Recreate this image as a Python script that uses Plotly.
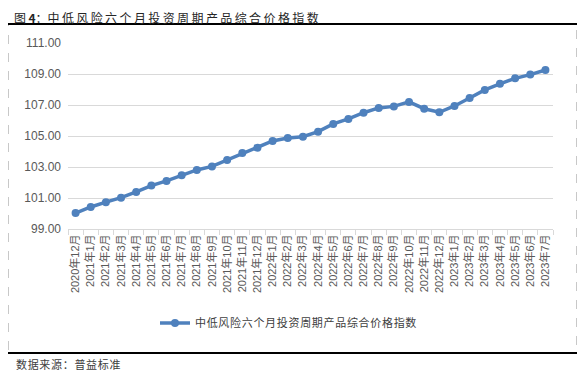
import plotly.graph_objects as go

# ---------------- data ----------------
months = ["2020年12月",
          "2021年1月", "2021年2月", "2021年3月", "2021年4月", "2021年5月", "2021年6月",
          "2021年7月", "2021年8月", "2021年9月", "2021年10月", "2021年11月", "2021年12月",
          "2022年1月", "2022年2月", "2022年3月", "2022年4月", "2022年5月", "2022年6月",
          "2022年7月", "2022年8月", "2022年9月", "2022年10月", "2022年11月", "2022年12月",
          "2023年1月", "2023年2月", "2023年3月", "2023年4月", "2023年5月", "2023年6月",
          "2023年7月"]
index_values = [100.03, 100.42, 100.73, 101.02, 101.39, 101.80, 102.10,
                102.47, 102.81, 103.04, 103.45, 103.90, 104.25,
                104.68, 104.87, 104.95, 105.28, 105.78, 106.10,
                106.50, 106.81, 106.91, 107.20, 106.76, 106.53,
                106.94, 107.45, 107.97, 108.37, 108.72, 108.96,
                109.26]
y_ticks = [99, 101, 103, 105, 107, 109, 111]

series_name = "中低风险六个月投资周期产品综合价格指数"
title_main = "中低风险六个月投资周期产品综合价格指数"
source_text = "数据来源：普益标准"

# ---------------- layout helpers ----------------
# the page body has an 8px margin, so the figure is drawn 8px in from the corner
OFF = 8
W, H = 587 - OFF, 372 - OFF
ML, MT = 68 - OFF, 43 - OFF
PW, PH = 485, 186
MR, MB = W - ML - PW, H - MT - PH


def px(x):
    """reference page x (pixels) -> paper x"""
    return (x - OFF - ML) / PW


def py(y):
    """reference page y (pixels) -> paper y"""
    return (MT + PH - (y - OFF)) / PH


def spaced(s, sep="\u200a"):
    return sep.join(list(s))


BLUE = "#4F81BD"
GRID = "#D9D9D9"
TXT = "#595959"
CJK = "Liberation Sans, Noto Sans CJK SC, sans-serif"

fig = go.Figure()
fig.add_trace(go.Scatter(
    x=months, y=index_values, mode="lines+markers", name=spaced(series_name),
    line=dict(color=BLUE, width=3.5),
    marker=dict(color=BLUE, size=8),
))

fig.update_layout(
    width=W, height=H,
    margin=dict(l=ML, r=MR, t=MT, b=MB, pad=0),
    paper_bgcolor="white", plot_bgcolor="white",
    font=dict(family=CJK, size=11, color=TXT),
    showlegend=True,
    legend=dict(orientation="h", x=px(155), xanchor="left", y=py(323), yanchor="middle",
                font=dict(size=11, color="#404040", family="Noto Sans CJK SC"),
                bgcolor="rgba(0,0,0,0)"),
    xaxis=dict(type="category", range=[-0.5, len(months) - 0.5],
               tickangle=-90, tickson="boundaries", ticks="outside", ticklen=5,
               tickcolor=GRID, showline=True, linecolor=GRID, linewidth=1,
               showgrid=False, tickfont=dict(size=11, color=TXT, family=CJK)),
    yaxis=dict(range=[99, 111], tickvals=y_ticks, tickformat=".2f",
               showgrid=True, gridcolor=GRID, gridwidth=1, zeroline=False,
               showline=False, ticks="", ticklabelstandoff=6,
               tickfont=dict(size=12, color=TXT, family="Liberation Sans")),
)

# Title
fig.add_annotation(xref="paper", yref="paper", x=px(13), y=py(8.5),
                   xanchor="left", yanchor="top", showarrow=False, borderpad=0,
                   text="图\u2009<b>4</b>：" + spaced(title_main, "\u2009"),
                   font=dict(size=12, color="#262626", family="Noto Sans CJK SC"))
# Source
fig.add_annotation(xref="paper", yref="paper", x=px(14), y=py(364),
                   xanchor="left", yanchor="middle", showarrow=False,
                   text=spaced(source_text, "\u200a"),
                   font=dict(size=11, color="#404040", family="Noto Sans CJK SC"))

# Frame: dashed border and black rules
fig.add_shape(type="rect", xref="paper", yref="paper",
              x0=px(8.5), x1=px(576.5), y0=py(353), y1=py(24),
              line=dict(color="#C8C8C8", width=1, dash="dash"), layer="below")
fig.add_shape(type="line", xref="paper", yref="paper",
              x0=px(8), x1=px(577), y0=py(24), y1=py(24),
              line=dict(color="black", width=2))
fig.add_shape(type="line", xref="paper", yref="paper",
              x0=px(8), x1=px(577), y0=py(353), y1=py(353),
              line=dict(color="black", width=2))

fig.write_html("out.html")
